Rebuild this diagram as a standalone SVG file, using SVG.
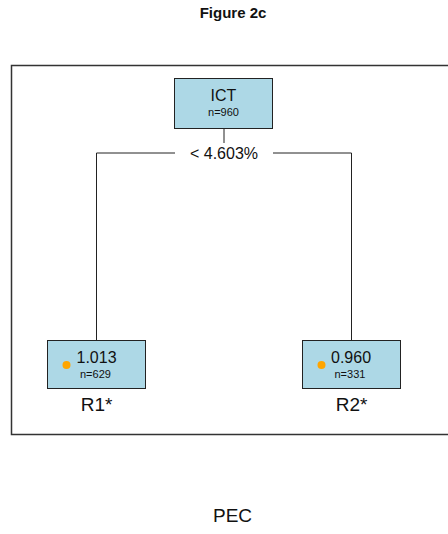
<svg xmlns="http://www.w3.org/2000/svg" width="448" height="534" viewBox="0 0 448 534">
  <style>
    text { font-family: "Liberation Sans", Arial, sans-serif; fill: #111; }
    .frame { fill: none; stroke: #333; stroke-width: 1.5; }
    .node rect { fill: #add8e6; stroke: #222; stroke-width: 1; }
    .edge { fill: none; stroke: #222; stroke-width: 1; }
    .dot { fill: #ffa500; }
    .title { font-size: 15px; font-weight: bold; }
    .big { font-size: 16px; }
    .small { font-size: 11px; }
    .leaf { font-size: 19px; }
  </style>
  <rect width="448" height="534" fill="#ffffff"/>
  <text class="title" x="233" y="18" text-anchor="middle">Figure 2c</text>
  <!-- panel frame, open on the right -->
  <path class="frame" d="M449,65.5 H11.5 V434.5 H449"/>

  <g id="connectors">
    <path class="edge" d="M224,128.5 V143"/>
    <path class="edge" d="M175,153 H96.5 V340"/>
    <path class="edge" d="M273,153 H351.5 V340"/>
    <text class="big" x="224" y="159" text-anchor="middle">&lt; 4.603%</text>
  </g>

  <g id="node-ict" class="node">
    <rect x="174.5" y="78.5" width="98" height="50"/>
    <text class="big" x="223.5" y="101" text-anchor="middle">ICT</text>
    <text class="small" x="223.5" y="116" text-anchor="middle">n=960</text>
  </g>

  <g id="node-r1" class="node">
    <rect x="47.5" y="340.5" width="98" height="48"/>
    <circle class="dot" cx="66.5" cy="365" r="4"/>
    <text class="big" x="76.5" y="363">1.013</text>
    <text class="small" x="80" y="378">n=629</text>
    <text class="leaf" x="96.5" y="411" text-anchor="middle">R1*</text>
  </g>

  <g id="node-r2" class="node">
    <rect x="302.5" y="340.5" width="98" height="48"/>
    <circle class="dot" cx="321.5" cy="365" r="4"/>
    <text class="big" x="331" y="363">0.960</text>
    <text class="small" x="334.5" y="378">n=331</text>
    <text class="leaf" x="351.5" y="411" text-anchor="middle">R2*</text>
  </g>

  <text class="leaf" x="232.5" y="522" text-anchor="middle">PEC</text>
</svg>
